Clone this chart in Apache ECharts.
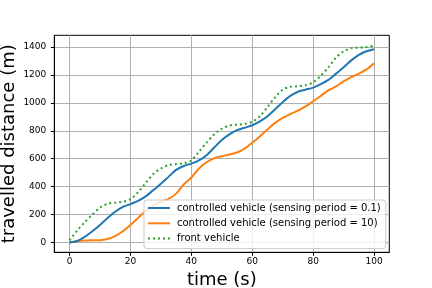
<!DOCTYPE html>
<html><head><meta charset="utf-8">
<script src="https://cdn.jsdelivr.net/npm/echarts@6/dist/echarts.min.js"></script>
<style>html,body{margin:0;padding:0;background:#fff}#c{width:432px;height:288px}</style>
</head><body><div id="c"></div>
<script>
const times = [0,2.5,5,7.5,10,12.5,15,17.5,20,22.5,25,27.5,30,32.5,35,37.5,40,42.5,45,47.5,50,52.5,55,57.5,60,62.5,65,67.5,70,72.5,75,77.5,80,82.5,85,87.5,90,92.5,95,97.5,100];
const ctrlFast = [0,10,40,80,125,175,220,255,275,298,330,375,420,470,520,548,565,588,625,680,735,775,805,822,840,868,905,955,1005,1050,1080,1095,1110,1135,1165,1210,1255,1305,1345,1370,1385];
const ctrlSlow = [0,8,13,15,16,25,45,80,125,175,225,265,292,312,350,415,465,530,575,603,618,630,645,672,715,760,810,857,893,920,945,975,1012,1050,1090,1118,1155,1185,1210,1240,1285];
const front = [15,85,145,200,250,277,285,292,310,360,425,490,530,555,562,568,588,650,715,775,815,838,844,850,865,905,970,1040,1095,1115,1120,1127,1148,1195,1255,1325,1370,1392,1396,1400,1410];
const xTicks = [0,20,40,60,80,100];
const yTicks = [0,200,400,600,800,1000,1200,1400];
const names = ['controlled vehicle (sensing period = 0.1)','controlled vehicle (sensing period = 10)','front vehicle'];

const pair = arr => times.map((t,i)=>[t,arr[i]]);
const chart = echarts.init(document.getElementById('c'), null, {renderer:'canvas'});
const font = 'DejaVu Sans';
chart.setOption({
  animation:false,
  backgroundColor:'#fff',
  grid:{left:54.3,right:42.7,top:35.3,bottom:35.7,containLabel:false,outerBoundsMode:'none',
    show:true,borderColor:'#000',borderWidth:1,backgroundColor:'transparent'},
  xAxis:{type:'value',min:-5,max:105,
    name:'time (s)',nameLocation:'middle',nameGap:19,nameMoveOverlap:false,
    nameTextStyle:{fontFamily:font,fontSize:18,color:'#000'},
    axisLine:{show:true,onZero:false,lineStyle:{color:'#000',width:1}},
    axisTick:{show:true,length:3.5,inside:false,customValues:xTicks,lineStyle:{color:'#000'}},
    axisLabel:{customValues:xTicks,fontFamily:font,fontSize:9,color:'#000',margin:5,formatter:v=>String(v)},
    splitLine:{show:true,lineStyle:{color:'#b0b0b0',width:1}}
  },
  yAxis:{type:'value',min:-70.7,max:1484.7,
    name:'travelled distance (m)',nameLocation:'middle',nameGap:36,nameMoveOverlap:false,
    nameTextStyle:{fontFamily:font,fontSize:18,color:'#000'},
    axisLine:{show:true,onZero:false,lineStyle:{color:'#000',width:1}},
    axisTick:{show:true,length:3.5,inside:false,customValues:yTicks,lineStyle:{color:'#000'}},
    axisLabel:{customValues:yTicks,fontFamily:font,fontSize:9,color:'#000',margin:8,formatter:v=>String(v)},
    splitLine:{show:true,lineStyle:{color:'#b0b0b0',width:1}}
  },
  legend:{orient:'vertical',left:144,top:200,itemWidth:22,itemHeight:10,itemGap:5.3,
    padding:[3,5,5,3],
    backgroundColor:'rgba(255,255,255,0.8)',borderColor:'#cccccc',borderWidth:1,borderRadius:3,
    itemStyle:{opacity:0},
    textStyle:{fontFamily:font,fontSize:10,color:'#000',padding:[0,0,0,2]},
    data:names
  },
  series:[
    {name:names[0],type:'line',data:pair(ctrlFast),smooth:0.3,symbol:'none',showSymbol:false,
      lineStyle:{color:'#1f77b4',width:2},itemStyle:{color:'#1f77b4'},z:3},
    {name:names[1],type:'line',data:pair(ctrlSlow),smooth:0.3,symbol:'none',showSymbol:false,
      lineStyle:{color:'#ff7f0e',width:2},itemStyle:{color:'#ff7f0e'},z:2},
    {name:names[2],type:'line',data:pair(front),smooth:0.3,symbol:'none',showSymbol:false,
      lineStyle:{color:'#2ca02c',width:2,type:[2,3]},itemStyle:{color:'#2ca02c'},z:4}
  ]
});
</script></body></html>
